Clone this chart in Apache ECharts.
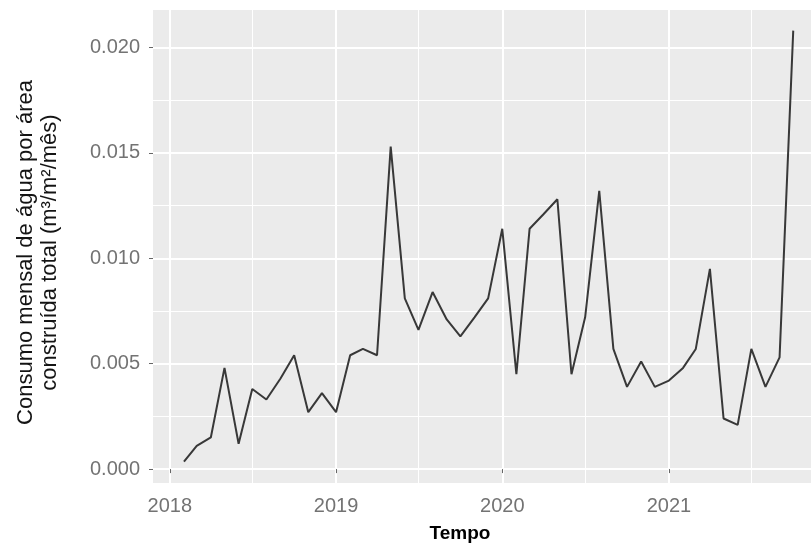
<!DOCTYPE html>
<html>
<head>
<meta charset="utf-8">
<script src="https://cdn.jsdelivr.net/npm/echarts@6/dist/echarts.min.js"></script>
<style>
  html, body { margin: 0; padding: 0; background: #ffffff; }
  #chart { width: 811px; height: 545px; }
</style>
</head>
<body>
<div id="chart"></div>
<script>
// Monthly water consumption per total built area (m³/m²/month)
const months = [
  '2018-02-01','2018-03-01','2018-04-01','2018-05-01','2018-06-01','2018-07-01',
  '2018-08-01','2018-09-01','2018-10-01','2018-11-01','2018-12-01',
  '2019-01-01','2019-02-01','2019-03-01','2019-04-01','2019-05-01','2019-06-01',
  '2019-07-01','2019-08-01','2019-09-01','2019-10-01','2019-11-01','2019-12-01',
  '2020-01-01','2020-02-01','2020-03-01','2020-04-01','2020-05-01','2020-06-01',
  '2020-07-01','2020-08-01','2020-09-01','2020-10-01','2020-11-01','2020-12-01',
  '2021-01-01','2021-02-01','2021-03-01','2021-04-01','2021-05-01','2021-06-01',
  '2021-07-01','2021-08-01','2021-09-01','2021-10-01'
];
const consumo = [
  0.00035, 0.0011, 0.0015, 0.0048, 0.0012, 0.0038,
  0.0033, 0.0043, 0.0054, 0.0027, 0.0036,
  0.0027, 0.0054, 0.0057, 0.0054, 0.0153, 0.0081,
  0.0066, 0.0084, 0.0071, 0.0063, 0.0072, 0.0081,
  0.0114, 0.0045, 0.0114, 0.0121, 0.0128, 0.0045,
  0.0072, 0.0132, 0.0057, 0.0039, 0.0051, 0.0039,
  0.0042, 0.0048, 0.0057, 0.0095, 0.0024, 0.0021,
  0.0057, 0.0039, 0.0053, 0.0208
];

// Axis breaks
const yMajor = [0, 0.005, 0.010, 0.015, 0.020];
const yMinor = [0.0025, 0.0075, 0.0125, 0.0175];
const xMajor = ['2018-01-01', '2019-01-01', '2020-01-01', '2021-01-01'];
const xMinor = ['2018-07-01', '2019-07-01', '2020-07-01', '2021-07-01'];

const xRange = ['2017-11-25', '2021-11-09'];
const yRange = [-0.00066, 0.02178];

// dates are placed on a linear millisecond scale
const toTime = s => { const p = s.split('-').map(Number); return Date.UTC(p[0], p[1] - 1, p[2]); };

const panelGrey = '#ebebeb';
const fontFamily = 'Liberation Sans, Arial, sans-serif';
const labelStyle = { color: '#737373', fontFamily, fontSize: 20 };
const tickStyle = { color: '#666666', width: 1 };

const chart = echarts.init(document.getElementById('chart'), null, { renderer: 'canvas' });

chart.setOption({
  animation: false,
  backgroundColor: '#ffffff',
  grid: {
    left: 153, right: 0, top: 10, bottom: 62,
    show: true, backgroundColor: panelGrey, borderWidth: 0,
    containLabel: false, outerBoundsMode: 'none'
  },
  xAxis: [
    {
      type: 'value',
      min: toTime(xRange[0]), max: toTime(xRange[1]),
      name: 'Tempo',
      nameLocation: 'middle',
      nameGap: 41,
      nameMoveOverlap: false,
      nameTextStyle: {
        color: '#000000', fontWeight: 'bold', fontSize: 19, fontFamily,
        padding: [0, 44, 0, 0]
      },
      axisLine: { show: false },
      axisTick: { show: true, length: 4, lineStyle: tickStyle, customValues: xMajor.map(toTime) },
      axisLabel: {
        ...labelStyle, margin: 13,
        customValues: xMajor.map(toTime),
        formatter: v => String(new Date(v).getUTCFullYear())
      },
      splitLine: { show: true, lineStyle: { color: '#ffffff', width: 2 } }
    },
    {
      type: 'value',
      min: toTime(xRange[0]), max: toTime(xRange[1]),
      axisLine: { show: false },
      axisTick: { show: false, customValues: xMinor.map(toTime) },
      axisLabel: { show: false, customValues: xMinor.map(toTime) },
      splitLine: { show: true, lineStyle: { color: '#ffffff', width: 1 } }
    }
  ],
  yAxis: [
    {
      type: 'value',
      min: yRange[0], max: yRange[1],
      name: 'Consumo mensal de água por área\nconstruída total (m³/m²/mês)',
      nameLocation: 'middle',
      nameGap: 91,
      nameRotate: 90,
      nameMoveOverlap: false,
      nameTextStyle: {
        color: '#141414', fontSize: 22, lineHeight: 24, align: 'center', fontFamily,
        padding: [0, 12, 0, 0]
      },
      axisLine: { show: false },
      axisTick: { show: true, length: 4, lineStyle: tickStyle, customValues: yMajor },
      axisLabel: {
        ...labelStyle, margin: 13,
        customValues: yMajor,
        formatter: v => v.toFixed(3)
      },
      splitLine: { show: true, lineStyle: { color: '#ffffff', width: 2 } }
    },
    {
      type: 'value',
      min: yRange[0], max: yRange[1],
      axisLine: { show: false },
      axisTick: { show: false, customValues: yMinor },
      axisLabel: { show: false, customValues: yMinor },
      splitLine: { show: true, lineStyle: { color: '#ffffff', width: 1 } }
    }
  ],
  series: [
    {
      type: 'line',
      xAxisIndex: 0,
      yAxisIndex: 0,
      data: months.map((m, i) => [toTime(m), consumo[i]]),
      showSymbol: false,
      symbol: 'none',
      lineStyle: { color: '#383838', width: 2 },
      z: 5
    }
  ]
});
</script>
</body>
</html>
